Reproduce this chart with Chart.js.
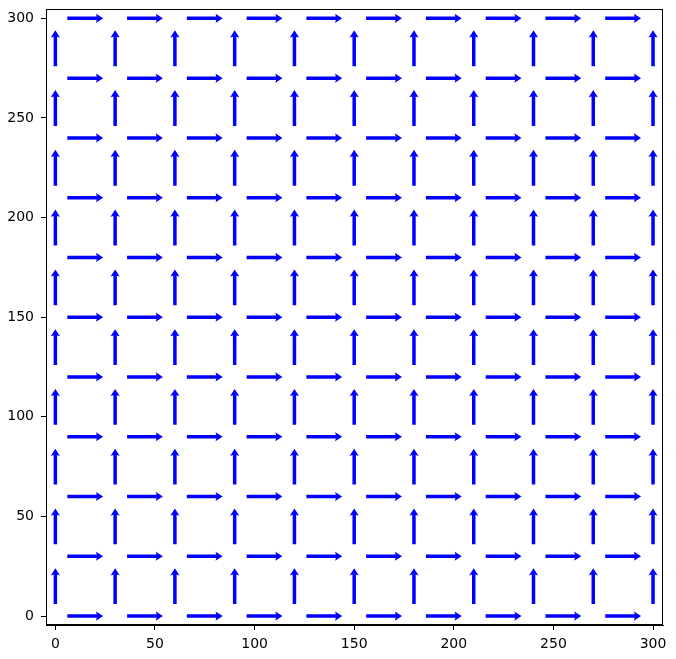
<!DOCTYPE html>
<html>
<head>
<meta charset="utf-8">
<script src="https://cdn.jsdelivr.net/npm/chart.js@4/dist/chart.umd.min.js"></script>
<style>
  html, body { margin: 0; padding: 0; background: #ffffff; }
  #wrap { width: 676px; height: 659px; position: relative; }
</style>
</head>
<body>
<div id="wrap"><canvas id="c" width="676" height="659"></canvas></div>
<script>
// ---- data ----
// horizontal (u) arrows: centres and x-component
const hArrowX = [15, 45, 75, 105, 135, 165, 195, 225, 255, 285];
const hArrowY = [0, 30, 60, 90, 120, 150, 180, 210, 240, 270, 300];
const hArrowU = 18;
// vertical (v) arrows: centres and y-component
const vArrowX = [0, 30, 60, 90, 120, 150, 180, 210, 240, 270, 300];
const vArrowY = [15, 45, 75, 105, 135, 165, 195, 225, 255, 285];
const vArrowV = 18;
// axis ticks
const xTicks = [0, 50, 100, 150, 200, 250, 300];
const yTicks = [0, 50, 100, 150, 200, 250, 300];

// build point tables
const hPoints = [];
hArrowY.forEach(y => hArrowX.forEach(x => hPoints.push({ x: x, y: y, u: hArrowU, v: 0 })));
const vPoints = [];
vArrowY.forEach(y => vArrowX.forEach(x => vPoints.push({ x: x, y: y, u: 0, v: vArrowV })));

const ARROW_COLOR = '#0000ff';

const quiverPlugin = {
  id: 'quiver',
  afterDatasetsDraw(chart) {
    const ctx = chart.ctx;
    const xs = chart.scales.x, ys = chart.scales.y;
    ctx.save();
    ctx.fillStyle = ARROW_COLOR;
    chart.data.datasets.forEach(ds => {
      ds.data.forEach(p => {
        const x0 = xs.getPixelForValue(p.x - p.u / 2);
        const y0 = ys.getPixelForValue(p.y - p.v / 2);
        const x1 = xs.getPixelForValue(p.x + p.u / 2);
        const y1 = ys.getPixelForValue(p.y + p.v / 2);
        const dx = x1 - x0, dy = y1 - y0;
        const L = Math.hypot(dx, dy);
        const ux = dx / L, uy = dy / L;
        const nx = -uy, ny = ux;
        const sw = 1.75, hw = 4.6, hl = 7.2, ha = 6.4;
        const bx = x1 - ux * hl, by = y1 - uy * hl;
        const ax = x1 - ux * ha, ay = y1 - uy * ha;
        ctx.beginPath();
        ctx.moveTo(x0 + nx * sw, y0 + ny * sw);
        ctx.lineTo(ax + nx * sw, ay + ny * sw);
        ctx.lineTo(bx + nx * hw, by + ny * hw);
        ctx.lineTo(x1, y1);
        ctx.lineTo(bx - nx * hw, by - ny * hw);
        ctx.lineTo(ax - nx * sw, ay - ny * sw);
        ctx.lineTo(x0 - nx * sw, y0 - ny * sw);
        ctx.closePath();
        ctx.fill();
      });
    });
    // axes frame
    const a = chart.chartArea;
    ctx.strokeStyle = '#000000';
    ctx.lineWidth = 1;
    ctx.strokeRect(Math.round(a.left) + 0.5, Math.round(a.top) + 0.5,
                   Math.round(a.right - a.left) - 1, Math.round(a.bottom - a.top) - 1);
    ctx.restore();
  }
};

new Chart(document.getElementById('c'), {
  type: 'scatter',
  data: {
    datasets: [
      { label: 'u', data: hPoints, pointRadius: 0, pointHoverRadius: 0, showLine: false },
      { label: 'v', data: vPoints, pointRadius: 0, pointHoverRadius: 0, showLine: false }
    ]
  },
  options: {
    responsive: false,
    animation: false,
    events: [],
    layout: { padding: { top: 9, right: 13, left: 0, bottom: 0 } },
    plugins: { legend: { display: false }, tooltip: { enabled: false } },
    scales: {
      x: {
        type: 'linear',
        min: -4.7, max: 305,
        afterBuildTicks: s => { s.ticks = xTicks.map(v => ({ value: v })); },
        afterFit: s => { s.height = 34; s.paddingLeft = 0; s.paddingRight = 0; },
        grid: { drawOnChartArea: false, drawTicks: true, tickLength: 5, color: '#000000', tickWidth: 1 },
        border: { display: true, color: '#000000', width: 1 },
        ticks: { color: '#000000', padding: 6, maxRotation: 0, font: { family: 'DejaVu Sans', size: 14 } }
      },
      y: {
        type: 'linear',
        min: -4.5, max: 304.7,
        afterBuildTicks: s => { s.ticks = yTicks.map(v => ({ value: v })); },
        afterFit: s => { s.width = 46; s.paddingTop = 0; s.paddingBottom = 0; },
        grid: { drawOnChartArea: false, drawTicks: true, tickLength: 5, color: '#000000', tickWidth: 1 },
        border: { display: true, color: '#000000', width: 1 },
        ticks: { color: '#000000', padding: 7, font: { family: 'DejaVu Sans', size: 14 } }
      }
    }
  },
  plugins: [quiverPlugin]
});
</script>
</body>
</html>
